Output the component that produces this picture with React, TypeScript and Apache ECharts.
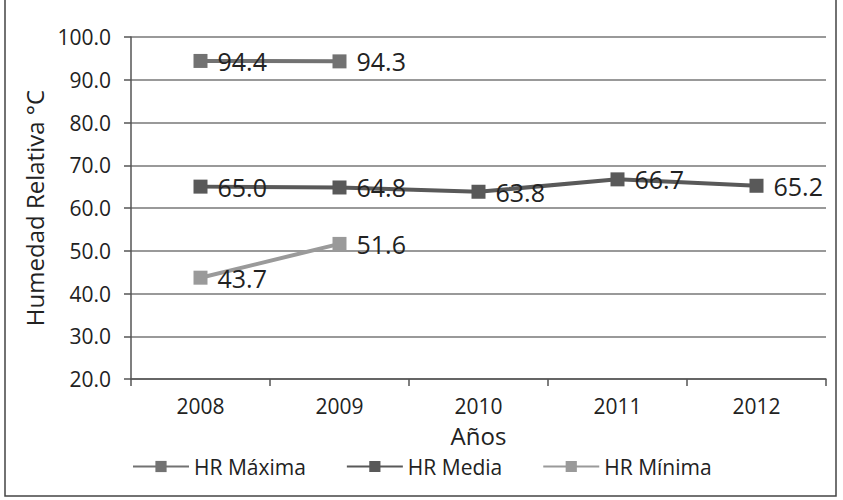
import React, { useEffect, useRef } from "react";
import * as echarts from "echarts";

const years = ["2008", "2009", "2010", "2011", "2012"];
const hrMaxima = [94.4, 94.3, null, null, null];
const hrMedia = [65.0, 64.8, 63.8, 66.7, 65.2];
const hrMinima = [43.7, 51.6, null, null, null];
const yTicks = { min: 20, max: 100, interval: 10 };

const FONT = "'Open Sans', 'Noto Sans', sans-serif";

export default function App() {
  const ref = useRef<HTMLDivElement>(null);
  useEffect(() => {
    const chart = echarts.init(ref.current!, null, { renderer: "svg" });
    const mkSeries = (name: string, data: (number | null)[], color: string) => ({
      name,
      type: "line",
      data,
      symbol: "rect",
      symbolSize: 14,
      connectNulls: false,
      lineStyle: { color, width: 4 },
      itemStyle: { color },
      label: {
        show: true,
        position: "right",
        distance: 10,
        color: "#222",
        fontFamily: FONT,
        fontSize: 25,
        formatter: (p: any) => Number(p.value).toFixed(1),
      },
    });
    chart.setOption({
      animation: false,
      backgroundColor: "#fff",
      textStyle: { fontFamily: FONT },
      graphic: [
        {
          type: "rect",
          shape: { x: 5, y: -5, width: 831, height: 501 },
          style: { fill: "none", stroke: "#444", lineWidth: 1.5 },
          silent: true,
        },
      ],
      grid: { left: 131, right: 17, top: 37, bottom: 121 },
      legend: {
        bottom: 18,
        left: 127,
        itemGap: 40,
        itemWidth: 56,
        itemHeight: 14,
        textStyle: { fontFamily: FONT, fontSize: 21, color: "#222" },
        data: ["HR Máxima", "HR Media", "HR Mínima"],
      },
      xAxis: {
        type: "category",
        data: years,
        boundaryGap: true,
        name: "Años",
        nameLocation: "middle",
        nameGap: 44,
        nameTextStyle: { fontFamily: FONT, fontSize: 24, color: "#222" },
        axisLine: { lineStyle: { color: "#555", width: 1.5 } },
        axisTick: { show: true, length: 7, lineStyle: { color: "#555", width: 1.5 } },
        axisLabel: { color: "#222", fontFamily: FONT, fontSize: 21, margin: 16 },
      },
      yAxis: {
        type: "value",
        min: yTicks.min,
        max: yTicks.max,
        interval: yTicks.interval,
        name: "Humedad Relativa °C",
        nameLocation: "middle",
        nameGap: 76,
        nameTextStyle: { fontFamily: FONT, fontSize: 24, color: "#222" },
        axisLine: { show: true, lineStyle: { color: "#555", width: 1.5 } },
        axisTick: { show: true, length: 7, lineStyle: { color: "#555", width: 1.5 } },
        axisLabel: {
          color: "#222",
          fontFamily: FONT,
          fontSize: 21,
          margin: 20,
          formatter: (v: number) => v.toFixed(1),
        },
        splitLine: { show: true, lineStyle: { color: "#777", width: 1.5 } },
      },
      series: [
        mkSeries("HR Máxima", hrMaxima, "#727272"),
        mkSeries("HR Media", hrMedia, "#595959"),
        mkSeries("HR Mínima", hrMinima, "#9a9a9a"),
      ],
    });
    return () => chart.dispose();
  }, []);
  return (
    <div
      ref={ref}
      style={{ position: "fixed", left: 0, top: 0, width: 843, height: 500 }}
    />
  );
}
